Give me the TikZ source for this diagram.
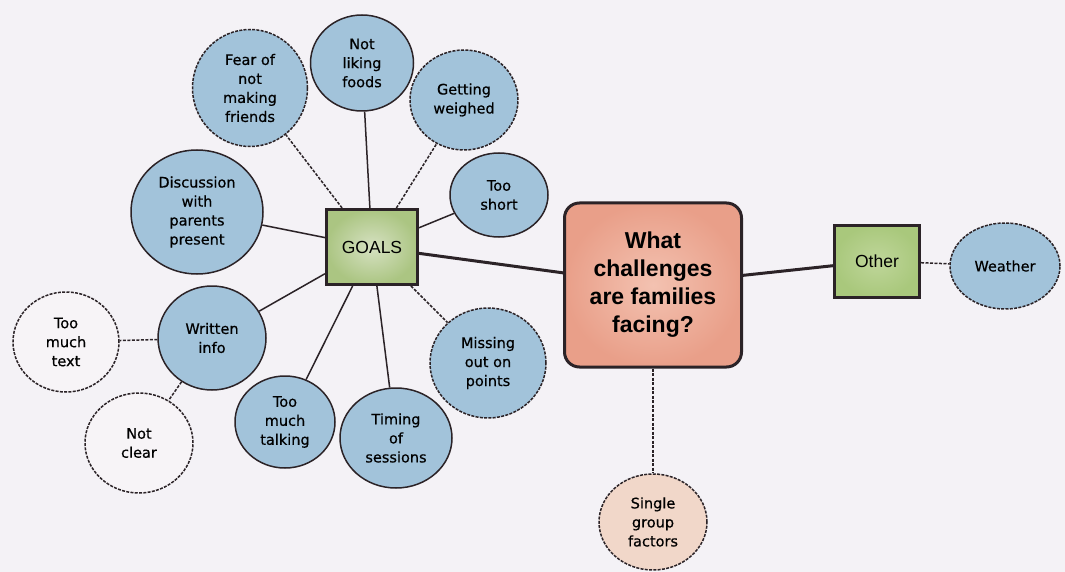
\documentclass[tikz,border=0pt]{standalone}
\usepackage{fontspec}
\setmainfont{DejaVu Sans}[FakeBold=0.5]
\newfontfamily\headfont{Liberation Sans}
\usetikzlibrary{shapes.geometric}

\definecolor{paper}{HTML}{F4F2F6}
\definecolor{ink}{HTML}{2B2327}
\definecolor{bluefill}{HTML}{A2C3DA}
\definecolor{palefill}{HTML}{F7F4F7}
\definecolor{peachfill}{HTML}{F1D7C9}
\definecolor{salmon}{HTML}{E99F89}
\definecolor{salmonlight}{HTML}{F3C2B1}
\definecolor{goalsout}{HTML}{ABC582}
\definecolor{goalsin}{HTML}{D6E1C2}
\definecolor{othergreen}{HTML}{A9C87C}
\definecolor{otherlight}{HTML}{BFD69A}

\tikzset{
  bubble/.style={ellipse, draw=ink, line width=1.5pt, fill=bluefill,
    align=center, inner sep=0pt, text=black,
    font=\fontsize{14.5}{19}\selectfont},
  dbubble/.style={bubble, dash pattern=on 3pt off 1.3pt},
  topicbox/.style={rectangle, draw=ink, line width=3pt, align=center,
    text=black, font=\headfont\fontsize{17.5}{21}\selectfont},
  link/.style={draw=ink, line width=1.5pt},
  dlink/.style={link, dash pattern=on 3pt off 1.5pt},
  thicklink/.style={draw=ink, line width=3pt},
}

\begin{document}
\begin{tikzpicture}[x=1pt, y=-1pt]
  \fill[paper] (0,0) rectangle (1065,572);
  \useasboundingbox (0,0) rectangle (1065,572);

  % central question and the two topic boxes
  \node[rectangle, rounded corners=15pt, draw=ink, line width=3pt,
        inner color=salmonlight, outer color=salmon,
        minimum width=177pt, minimum height=164pt, align=center,
        text=black, font=\headfont\bfseries\fontsize{23}{28}\selectfont]
        (q) at (653,285) {What\\challenges\\are families\\facing?};
  \node[topicbox, inner color=goalsin, outer color=goalsout,
        minimum width=91pt, minimum height=75pt] (goals) at (372,247) {GOALS};
  \node[topicbox, inner color=otherlight, outer color=othergreen,
        minimum width=85pt, minimum height=72pt] (other) at (877,261) {Other};

  % goal-related bubbles
  \node[dbubble, minimum width=115pt, minimum height=117pt] (fear) at (250,88)
       {Fear of\\not\\making\\friends};
  \node[bubble, minimum width=103pt, minimum height=96pt] (foods) at (362,63)
       {Not\\liking\\foods};
  \node[dbubble, minimum width=108pt, minimum height=100pt] (weighed) at (464,100)
       {Getting\\weighed};
  \node[bubble, minimum width=98pt, minimum height=84pt] (short) at (499,195)
       {Too\\short};
  \node[bubble, minimum width=132pt, minimum height=124pt] (discuss) at (197,212)
       {Discussion\\with\\parents\\present};
  \node[bubble, minimum width=108pt, minimum height=104pt] (written) at (212,338)
       {Written\\info};
  \node[bubble, minimum width=100pt, minimum height=92pt] (talking) at (285,422)
       {Too\\much\\talking};
  \node[bubble, minimum width=112pt, minimum height=100pt] (timing) at (396,438)
       {Timing\\of\\sessions};
  \node[dbubble, minimum width=116pt, minimum height=110pt] (missing) at (488,363)
       {Missing\\out on\\points};

  % sub-points of written info
  \node[dbubble, fill=palefill, minimum width=106pt, minimum height=100pt]
       (muchtext) at (66,342) {Too\\much\\text};
  \node[dbubble, fill=palefill, minimum width=108pt, minimum height=100pt]
       (notclear) at (139,443) {Not\\clear};

  % other factors
  \node[dbubble, minimum width=110pt, minimum height=86pt] (weather) at (1005,266)
       {Weather};
  \node[dbubble, fill=peachfill, minimum width=108pt, minimum height=96pt]
       (single) at (653,522) {Single\\group\\factors};

  % connectors
  \draw[thicklink] (goals) -- (q);
  \draw[thicklink] (q) -- (other);
  \draw[dlink] (other) -- (weather);
  \draw[dlink] (q) -- (single);

  \draw[dlink] (goals) -- (fear);
  \draw[link]  (goals) -- (foods);
  \draw[dlink] (goals) -- (weighed);
  \draw[link]  (goals) -- (short);
  \draw[link]  (goals) -- (discuss);
  \draw[link]  (goals) -- (written);
  \draw[link]  (goals) -- (talking);
  \draw[link]  (goals) -- (timing);
  \draw[dlink] (goals) -- (missing);

  \draw[dlink] (written) -- (muchtext);
  \draw[dlink] (written) -- (notclear);
\end{tikzpicture}
\end{document}
